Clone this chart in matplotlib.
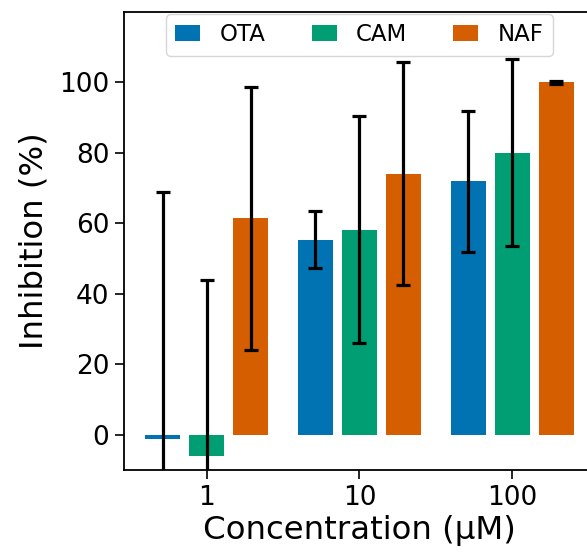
import matplotlib
matplotlib.use("Agg")
import matplotlib.pyplot as plt
import numpy as np

# inhibition data
concentrations = ["1", "10", "100"]
compounds = ["OTA", "CAM", "NAF"]
ota_mean = [-1.3, 55.4, 71.9]
ota_err = [70.3, 8.2, 20.0]
cam_mean = [-6.0, 58.2, 80.1]
cam_err = [50.0, 32.2, 26.6]
naf_mean = [61.4, 74.1, 100.0]
naf_err = [37.3, 31.7, 0.3]
colors = ["#0173b2", "#029e73", "#d55e00"]

means = [ota_mean, cam_mean, naf_mean]
errs = [ota_err, cam_err, naf_err]

fig = plt.figure(figsize=(5.87, 5.54), dpi=100)
ax = fig.add_axes([0.2112, 0.1516, 0.8024, 0.8267])

x = np.arange(len(concentrations))
offset = 0.2876
width = 0.229
for i, name in enumerate(compounds):
    ax.bar(x + (i - 1) * offset, means[i], width, color=colors[i], label=name,
           yerr=errs[i], error_kw=dict(ecolor="black", elinewidth=2.3, capsize=5, capthick=2.3))

ax.set_xlim(-0.54, 2.54)
ax.set_ylim(-10, 120)
ax.set_xticks(x)
ax.set_xticklabels(concentrations)
ax.set_yticks([0, 20, 40, 60, 80, 100])
ax.tick_params(labelsize=19, width=1.2, length=6.5, pad=4)
for s in ax.spines.values():
    s.set_linewidth(1.3)
ax.set_xlabel("Concentration (µM)", fontsize=23.3, labelpad=3)
ax.set_ylabel("Inhibition (%)", fontsize=23.3, labelpad=7)
ax.legend(loc="upper center", ncol=3, fontsize=16.5, handlelength=1.1, handletextpad=0.85,
          columnspacing=2.0, borderaxespad=0.1)

fig.savefig("out.png", dpi=100)
